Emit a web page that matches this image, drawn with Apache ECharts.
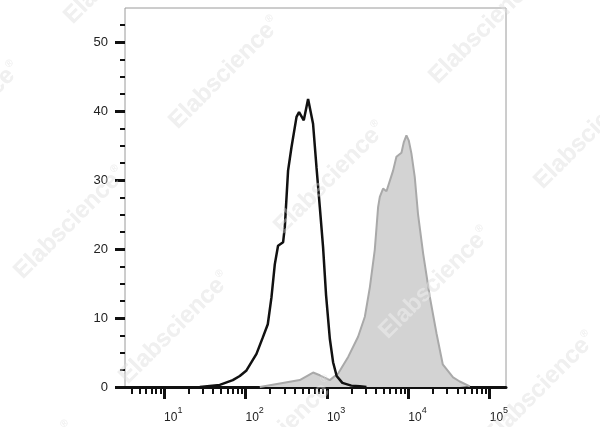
<!DOCTYPE html>
<html>
<head>
<meta charset="utf-8">
<script src="https://cdn.jsdelivr.net/npm/echarts@6/dist/echarts.min.js"></script>
<style>
html,body{margin:0;padding:0;background:#fff;}
#chart{width:600px;height:427px;}
</style>
</head>
<body>
<div id="chart"></div>
<script>
// x values are log10 of fluorescence intensity
var isotypeLog = [1.439,1.684,1.844,1.93,2.012,2.135,2.213,2.274,2.319,2.36,2.4,2.462,2.483,2.523,2.565,2.627,2.658,2.716,2.769,2.79,2.83,2.872,2.913,2.953,2.99,3.036,3.076,3.12,3.19,3.3,3.404,3.486];
var isotypeCount = [0,0.3,1.0,1.6,2.4,4.8,7.2,9.1,13,17.8,20.5,21,23.2,31.4,34.8,39.2,39.9,38.7,41.8,41.6,38.2,31.9,26.1,20.3,13.3,7.0,3.6,1.6,0.6,0.2,0.1,0];

var stainedLog = [2.176,2.422,2.667,2.83,2.913,3.036,3.14,3.263,3.383,3.466,3.528,3.588,3.629,3.65,3.69,3.732,3.813,3.854,3.916,3.944,3.977,4.005,4.038,4.079,4.12,4.182,4.264,4.346,4.423,4.55,4.632,4.756];
var stainedCount = [0,0.5,1.0,2.1,1.7,1.0,2.0,4.4,7.3,10.2,14.5,19.9,26.1,27.6,28.8,28.4,31.4,33.4,34.0,35.5,36.5,35.8,33.9,30.5,25,19.4,13.1,7.8,3.3,1.4,0.8,0.1];

var xMajorExp = [1,2,3,4,5];
var yMajor = [0,10,20,30,40,50];
var watermarkText = 'Elabscience';

function pairs(xs, ys){ return xs.map(function(x,i){ return [x, ys[i]]; }); }

var xMinor = [];
for (var d = 0; d <= 4; d++) {
  for (var k = 2; k <= 9; k++) {
    var v = d + Math.log10(k);
    if (v > 0.52 && v < 5.2) xMinor.push(v);
  }
}
var yMinor = [];
for (var t = 2.5; t < 55; t += 2.5) { if (t % 10 !== 0) yMinor.push(t); }

function wm(color, z){
  var els = [];
  for (var p = -4; p <= 6; p++) {
    for (var q = -2; q <= 3; q++) {
      var cx = 225 + p*105 - q*50, cy = 73 + p*105 + q*255;
      if (cx < -120 || cx > 720 || cy < -120 || cy > 550) continue;
      els.push({
        type:'text', x: cx, y: cy, rotation: Math.PI/4, z: z, silent: true,
        style: {
          text: '{a|' + watermarkText + '}{r|®}',
          align: 'center', verticalAlign: 'middle',
          rich: {
            a: {fontSize: 24, fontWeight: 'bold', fontFamily: 'Liberation Sans, Arial', fill: color},
            r: {fontSize: 10, fontFamily: 'Liberation Sans, Arial', fill: color, verticalAlign: 'top', padding:[0,0,12,1]}
          }
        }
      });
    }
  }
  return els;
}

var chart = echarts.init(document.getElementById('chart'), null, {renderer:'canvas'});
chart.setOption({
  animation: false,
  backgroundColor: '#fff',
  graphic: wm('#e8e8e8', -10).concat(wm('rgba(255,255,255,0.35)', 100)),
  grid: {left:125, right:94, top:8, bottom:40, show:true, borderColor:'#9a9a9a', borderWidth:1, backgroundColor:'transparent', z:0},
  xAxis: [{
    type:'value', min:0.52, max:5.2, position:'bottom',
    axisLine:{show:true, onZero:false, lineStyle:{color:'#111', width:3}},
    axisTick:{show:true, customValues: xMajorExp, length:12, lineStyle:{color:'#111', width:3}},
    axisLabel:{
      show:true, customValues: xMajorExp, margin:19, align:'left',
      formatter: function(v){ return '{b|10}{s|' + Math.round(v) + '}'; },
      rich: {
        b:{fontSize:12, fontFamily:'Liberation Sans, Arial', color:'#222', verticalAlign:'bottom', lineHeight:18},
        s:{fontSize:9, fontFamily:'Liberation Sans, Arial', color:'#222', verticalAlign:'top', lineHeight:18}
      }
    },
    splitLine:{show:false}
  },{
    type:'value', min:0.52, max:5.2, position:'bottom',
    axisLine:{show:false, onZero:false},
    axisTick:{show:true, customValues: xMinor, length:7, lineStyle:{color:'#111', width:2}},
    axisLabel:{show:false},
    splitLine:{show:false}
  }],
  yAxis: [{
    type:'value', min:0, max:55,
    axisLine:{show:false},
    axisTick:{show:true, customValues: yMajor, length:10, lineStyle:{color:'#111', width:3}},
    axisLabel:{show:true, customValues: yMajor, margin:17, fontSize:13, fontFamily:'Liberation Sans, Arial', color:'#222'},
    splitLine:{show:false}
  },{
    type:'value', min:0, max:55, position:'left',
    axisLine:{show:false},
    axisTick:{show:true, customValues: yMinor, length:5, lineStyle:{color:'#111', width:2}},
    axisLabel:{show:false},
    splitLine:{show:false}
  }],
  series: [{
    type:'line', name:'stained', xAxisIndex:0, yAxisIndex:0,
    data: pairs(stainedLog, stainedCount), showSymbol:false, symbol:'none',
    lineStyle:{color:'#a9a9a9', width:2},
    areaStyle:{color:'#d3d3d3', opacity:1},
    z:2
  },{
    type:'line', name:'isotype', xAxisIndex:0, yAxisIndex:0,
    data: pairs(isotypeLog, isotypeCount), showSymbol:false, symbol:'none',
    lineStyle:{color:'#111', width:2.5},
    z:3
  }]
});
</script>
</body>
</html>
